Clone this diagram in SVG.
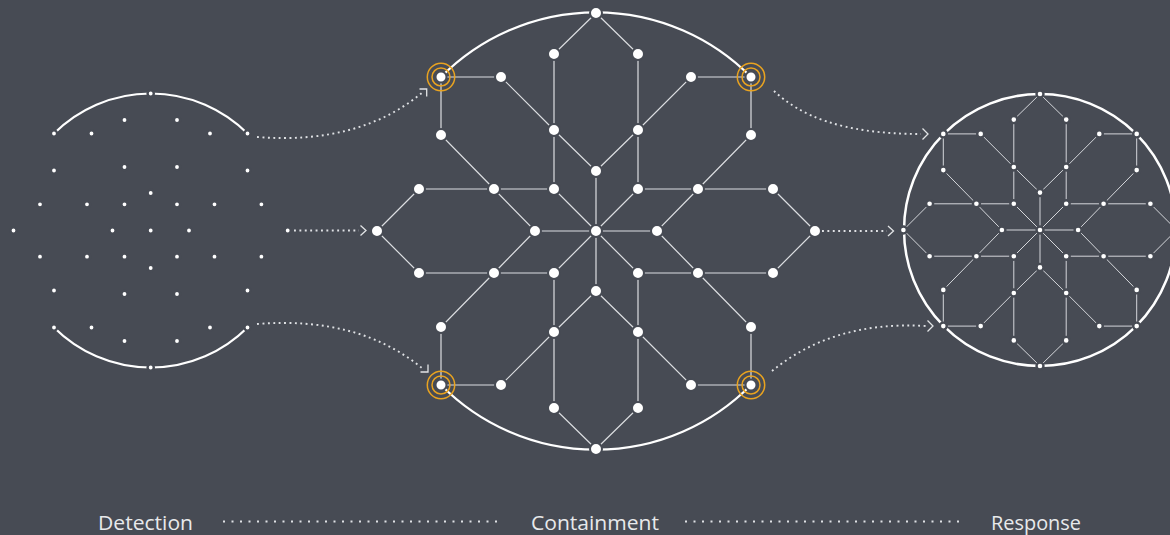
<svg xmlns="http://www.w3.org/2000/svg" width="1170" height="535" viewBox="0 0 1170 535">
<style>
.bg{fill:#474b54}
.edge{fill:none;stroke:#dcdee1;stroke-width:1.2}
.edge-s{fill:none;stroke:#d4d6da;stroke-width:1}
.arc{fill:none;stroke:#ffffff;stroke-width:2.2}
.dots{fill:none;stroke:#e0e2e5;stroke-width:1.9;stroke-dasharray:1.9 3.5}
.chev{fill:none;stroke:#e2e4e6;stroke-width:1.3}
.legdots{fill:none;stroke:#e0e2e5;stroke-width:2;stroke-dasharray:2 6.5}
.n{fill:#ffffff;stroke:#474b54;stroke-width:2}
.ns{fill:#ffffff;stroke:#474b54;stroke-width:2.4}
.ring{fill:none;stroke:#e9a320;stroke-width:1.5}
.lbl{font-family:"Open Sans","Noto Sans","Liberation Sans",sans-serif;font-size:20px;fill:#e8e9eb}
</style>
<rect class="bg" x="0" y="0" width="1170" height="535"/>

<g id="connectors">
  <!-- left cluster arcs -->
  <path class="arc" d="M54,133.5 A137,137 0 0 1 247.5,133.5"/>
  <path class="arc" d="M54,327.5 A137,137 0 0 0 247.5,327.5"/>
  <!-- center graph arcs -->
  <path class="arc" d="M441,77 A218,218 0 0 1 751,77"/>
  <path class="arc" d="M441,385 A218,218 0 0 0 751,385"/>
  <!-- center graph edges -->
  <path class="edge" d="M596,13 L554,54 L554,130 M441,77 L501,77 L554,130 M441,77 L441,135 L494,189 M554,130 L596,171 L596,231 M554,130 L554,189 L596,231 M419,189 L554,189 M377,231 L419,189 M494,189 L535,231 L596,231
  M596,13 L638,54 L638,130 M751,77 L691,77 L638,130 M751,77 L751,135 L698,189 M638,130 L596,171 M638,130 L638,189 L596,231 M773,189 L638,189 M815,231 L773,189 M698,189 L657,231 L596,231
  M596,449 L554,408 L554,332 M441,385 L501,385 L554,332 M441,385 L441,327 L494,273 M554,332 L596,291 L596,231 M554,332 L554,273 L596,231 M419,273 L554,273 M377,231 L419,273 M494,273 L535,231
  M596,449 L638,408 L638,332 M751,385 L691,385 L638,332 M751,385 L751,327 L698,273 M638,332 L596,291 M638,332 L638,273 L596,231 M773,273 L638,273 M815,231 L773,273 M698,273 L657,231"/>
  <!-- right cluster circle -->
  <circle class="arc" cx="1040" cy="230" r="136" style="stroke-width:2.5"/>
  <!-- right cluster edges -->
  <path class="edge-s" d="M1040,94 L1013.8,119.6 L1013.8,167 M943.3,133.9 L980.7,133.9 L1013.8,167 M943.3,133.9 L943.3,170.1 L976.4,203.8 M1013.8,167 L1040,192.6 L1040,230 M1013.8,167 L1013.8,203.8 L1040,230 M929.6,203.8 L1013.8,203.8 M903.4,230 L929.6,203.8 M976.4,203.8 L1001.9,230 L1040,230
  M1040,94 L1066.2,119.6 L1066.2,167 M1136.7,133.9 L1099.3,133.9 L1066.2,167 M1136.7,133.9 L1136.7,170.1 L1103.6,203.8 M1066.2,167 L1040,192.6 M1066.2,167 L1066.2,203.8 L1040,230 M1150.4,203.8 L1066.2,203.8 M1176.6,230 L1150.4,203.8 M1103.6,203.8 L1078.1,230 L1040,230
  M1040,366 L1013.8,340.4 L1013.8,293 M943.3,326.1 L980.7,326.1 L1013.8,293 M943.3,326.1 L943.3,289.9 L976.4,256.2 M1013.8,293 L1040,267.4 L1040,230 M1013.8,293 L1013.8,256.2 L1040,230 M929.6,256.2 L1013.8,256.2 M903.4,230 L929.6,256.2 M976.4,256.2 L1001.9,230
  M1040,366 L1066.2,340.4 L1066.2,293 M1136.7,326.1 L1099.3,326.1 L1066.2,293 M1136.7,326.1 L1136.7,289.9 L1103.6,256.2 M1066.2,293 L1040,267.4 M1066.2,293 L1066.2,256.2 L1040,230 M1150.4,256.2 L1066.2,256.2 M1176.6,230 L1150.4,256.2 M1103.6,256.2 L1078.1,230"/>

  <!-- dotted flow arrows -->
  <path class="dots" d="M257,137 Q360,145 423,92"/>
  <path class="chev" d="M419.5,89 L426.7,89 L426.7,96.5"/>
  <path class="dots" d="M257,324 Q360,316 423,369"/>
  <path class="chev" d="M428,364.5 L428,372 L420.5,372"/>
  <path class="dots" d="M294,230.5 L359,230.5"/>
  <path class="chev" d="M360.5,225.5 L366,230.5 L360.5,235.5"/>
  <path class="dots" d="M822,231 L887,231"/>
  <path class="chev" d="M888,226 L893.5,231 L888,236"/>
  <path class="dots" d="M774,91 C800,115 840,134 921,134"/>
  <path class="chev" d="M922.5,128.5 L928,134 L922.5,139.5"/>
  <path class="dots" d="M772,371 C810,340 860,322 926,326"/>
  <path class="chev" d="M927.5,320.5 L933,326 L927.5,331.5"/>
</g>

<g id="detection">
  <circle class="ns" cx="150.7" cy="93.5" r="3.1"/><circle class="ns" cx="150.7" cy="367.5" r="3.1"/>
  <circle class="ns" cx="54" cy="133.5" r="3.1"/><circle class="ns" cx="247.5" cy="133.5" r="3.1"/><circle class="ns" cx="54" cy="327.5" r="3.1"/><circle class="ns" cx="247.5" cy="327.5" r="3.1"/>
  <circle class="ns" cx="91.5" cy="133.5" r="3.1"/><circle class="ns" cx="210" cy="133.5" r="3.1"/><circle class="ns" cx="91.5" cy="327.5" r="3.1"/><circle class="ns" cx="210" cy="327.5" r="3.1"/>
  <circle class="ns" cx="124.5" cy="120" r="3.1"/><circle class="ns" cx="177" cy="120" r="3.1"/><circle class="ns" cx="124.5" cy="341" r="3.1"/><circle class="ns" cx="177" cy="341" r="3.1"/>
  <circle class="ns" cx="54" cy="170.5" r="3.1"/><circle class="ns" cx="247.5" cy="170.5" r="3.1"/><circle class="ns" cx="54" cy="290.5" r="3.1"/><circle class="ns" cx="247.5" cy="290.5" r="3.1"/>
  <circle class="ns" cx="124.5" cy="167" r="3.1"/><circle class="ns" cx="177" cy="167" r="3.1"/><circle class="ns" cx="124.5" cy="294" r="3.1"/><circle class="ns" cx="177" cy="294" r="3.1"/>
  <circle class="ns" cx="150.7" cy="193" r="3.1"/><circle class="ns" cx="150.7" cy="268" r="3.1"/>
  <circle class="ns" cx="40" cy="204.3" r="3.1"/><circle class="ns" cx="261.4" cy="204.3" r="3.1"/><circle class="ns" cx="40" cy="256.7" r="3.1"/><circle class="ns" cx="261.4" cy="256.7" r="3.1"/>
  <circle class="ns" cx="87" cy="204.3" r="3.1"/><circle class="ns" cx="214.5" cy="204.3" r="3.1"/><circle class="ns" cx="87" cy="256.7" r="3.1"/><circle class="ns" cx="214.5" cy="256.7" r="3.1"/>
  <circle class="ns" cx="124.5" cy="204.3" r="3.1"/><circle class="ns" cx="177" cy="204.3" r="3.1"/><circle class="ns" cx="124.5" cy="256.7" r="3.1"/><circle class="ns" cx="177" cy="256.7" r="3.1"/>
  <circle class="ns" cx="13.5" cy="230.5" r="3.1"/><circle class="ns" cx="287.7" cy="230.5" r="3.1"/>
  <circle class="ns" cx="112.5" cy="230.5" r="3.1"/><circle class="ns" cx="189" cy="230.5" r="3.1"/>
  <circle class="ns" cx="150.7" cy="230.5" r="3.1"/>
</g>

<g id="containment">
  <circle class="n" cx="596" cy="13" r="6"/><circle class="n" cx="596" cy="449" r="6"/>
  <circle class="n" cx="501" cy="77" r="6"/><circle class="n" cx="691" cy="77" r="6"/><circle class="n" cx="501" cy="385" r="6"/><circle class="n" cx="691" cy="385" r="6"/>
  <circle class="n" cx="554" cy="54" r="6"/><circle class="n" cx="638" cy="54" r="6"/><circle class="n" cx="554" cy="408" r="6"/><circle class="n" cx="638" cy="408" r="6"/>
  <circle class="n" cx="441" cy="135" r="6"/><circle class="n" cx="751" cy="135" r="6"/><circle class="n" cx="441" cy="327" r="6"/><circle class="n" cx="751" cy="327" r="6"/>
  <circle class="n" cx="554" cy="130" r="6"/><circle class="n" cx="638" cy="130" r="6"/><circle class="n" cx="554" cy="332" r="6"/><circle class="n" cx="638" cy="332" r="6"/>
  <circle class="n" cx="596" cy="171" r="6"/><circle class="n" cx="596" cy="291" r="6"/>
  <circle class="n" cx="419" cy="189" r="6"/><circle class="n" cx="773" cy="189" r="6"/><circle class="n" cx="419" cy="273" r="6"/><circle class="n" cx="773" cy="273" r="6"/>
  <circle class="n" cx="494" cy="189" r="6"/><circle class="n" cx="698" cy="189" r="6"/><circle class="n" cx="494" cy="273" r="6"/><circle class="n" cx="698" cy="273" r="6"/>
  <circle class="n" cx="554" cy="189" r="6"/><circle class="n" cx="638" cy="189" r="6"/><circle class="n" cx="554" cy="273" r="6"/><circle class="n" cx="638" cy="273" r="6"/>
  <circle class="n" cx="377" cy="231" r="6"/><circle class="n" cx="815" cy="231" r="6"/>
  <circle class="n" cx="535" cy="231" r="6"/><circle class="n" cx="657" cy="231" r="6"/>
  <circle class="n" cx="596" cy="231" r="6"/>
  <g id="alert-nodes">
    <circle class="n" cx="441" cy="77" r="5.5"/><circle class="ring" cx="441" cy="77" r="9"/><circle class="ring" cx="441" cy="77" r="13.7"/>
    <circle class="n" cx="751" cy="77" r="5.5"/><circle class="ring" cx="751" cy="77" r="9"/><circle class="ring" cx="751" cy="77" r="13.7"/>
    <circle class="n" cx="441" cy="385" r="5.5"/><circle class="ring" cx="441" cy="385" r="9"/><circle class="ring" cx="441" cy="385" r="13.7"/>
    <circle class="n" cx="751" cy="385" r="5.5"/><circle class="ring" cx="751" cy="385" r="9"/><circle class="ring" cx="751" cy="385" r="13.7"/>
  </g>
</g>

<g id="response">
  <circle class="ns" cx="1040" cy="94" r="3.5"/><circle class="ns" cx="1040" cy="366" r="3.5"/>
  <circle class="ns" cx="943.3" cy="133.9" r="3.5"/><circle class="ns" cx="1136.7" cy="133.9" r="3.5"/><circle class="ns" cx="943.3" cy="326.1" r="3.5"/><circle class="ns" cx="1136.7" cy="326.1" r="3.5"/>
  <circle class="ns" cx="980.7" cy="133.9" r="3.5"/><circle class="ns" cx="1099.3" cy="133.9" r="3.5"/><circle class="ns" cx="980.7" cy="326.1" r="3.5"/><circle class="ns" cx="1099.3" cy="326.1" r="3.5"/>
  <circle class="ns" cx="1013.8" cy="119.6" r="3.5"/><circle class="ns" cx="1066.2" cy="119.6" r="3.5"/><circle class="ns" cx="1013.8" cy="340.4" r="3.5"/><circle class="ns" cx="1066.2" cy="340.4" r="3.5"/>
  <circle class="ns" cx="943.3" cy="170.1" r="3.5"/><circle class="ns" cx="1136.7" cy="170.1" r="3.5"/><circle class="ns" cx="943.3" cy="289.9" r="3.5"/><circle class="ns" cx="1136.7" cy="289.9" r="3.5"/>
  <circle class="ns" cx="1013.8" cy="167" r="3.5"/><circle class="ns" cx="1066.2" cy="167" r="3.5"/><circle class="ns" cx="1013.8" cy="293" r="3.5"/><circle class="ns" cx="1066.2" cy="293" r="3.5"/>
  <circle class="ns" cx="1040" cy="192.6" r="3.5"/><circle class="ns" cx="1040" cy="267.4" r="3.5"/>
  <circle class="ns" cx="929.6" cy="203.8" r="3.5"/><circle class="ns" cx="1150.4" cy="203.8" r="3.5"/><circle class="ns" cx="929.6" cy="256.2" r="3.5"/><circle class="ns" cx="1150.4" cy="256.2" r="3.5"/>
  <circle class="ns" cx="976.4" cy="203.8" r="3.5"/><circle class="ns" cx="1103.6" cy="203.8" r="3.5"/><circle class="ns" cx="976.4" cy="256.2" r="3.5"/><circle class="ns" cx="1103.6" cy="256.2" r="3.5"/>
  <circle class="ns" cx="1013.8" cy="203.8" r="3.5"/><circle class="ns" cx="1066.2" cy="203.8" r="3.5"/><circle class="ns" cx="1013.8" cy="256.2" r="3.5"/><circle class="ns" cx="1066.2" cy="256.2" r="3.5"/>
  <circle class="ns" cx="903.4" cy="230" r="3.5"/><circle class="ns" cx="1176.6" cy="230" r="3.5"/>
  <circle class="ns" cx="1001.9" cy="230" r="3.5"/><circle class="ns" cx="1078.1" cy="230" r="3.5"/>
  <circle class="ns" cx="1040" cy="230" r="3.5"/>
</g>

<g id="legend">
  <text class="lbl" x="98" y="529.5" textLength="95" lengthAdjust="spacingAndGlyphs">Detection</text>
  <path class="legdots" d="M223,521.5 L498,521.5"/>
  <text class="lbl" x="531" y="529.5" textLength="128" lengthAdjust="spacingAndGlyphs">Containment</text>
  <path class="legdots" d="M685,521.5 L960,521.5"/>
  <text class="lbl" x="991" y="529.5" textLength="90" lengthAdjust="spacingAndGlyphs">Response</text>
</g>
</svg>
